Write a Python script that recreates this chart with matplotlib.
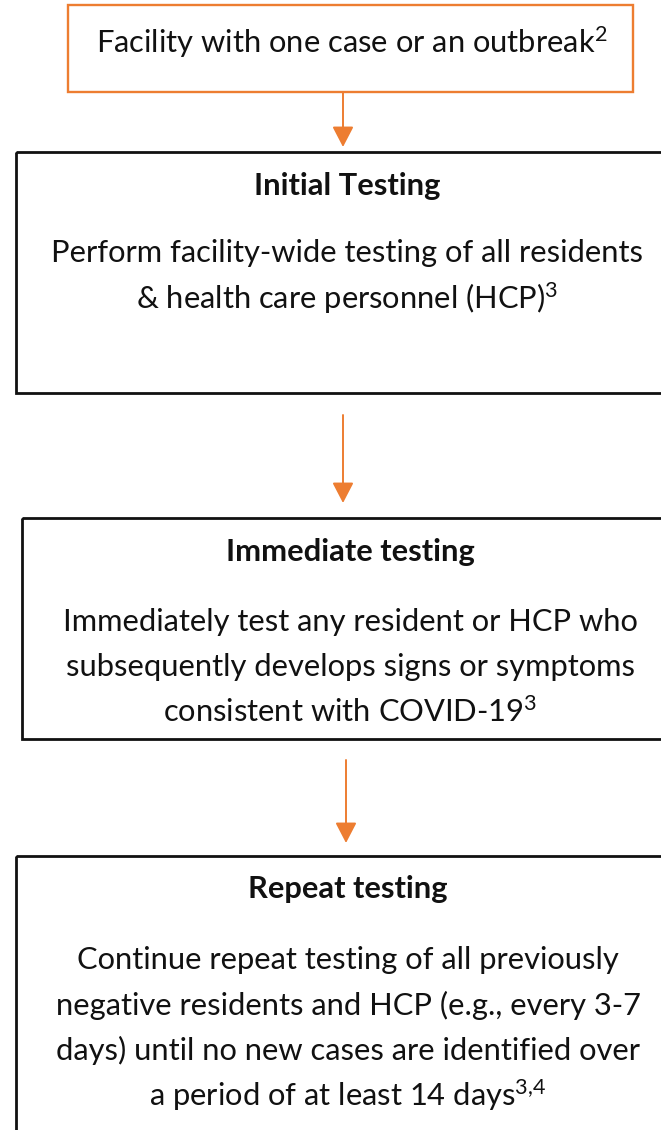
import matplotlib
matplotlib.use("Agg")
import matplotlib.pyplot as plt
from matplotlib.patches import Rectangle

plt.rcParams['font.family'] = ['Lato', 'DejaVu Sans']
plt.rcParams['mathtext.fontset'] = 'custom'
plt.rcParams['mathtext.rm'] = 'Lato'
plt.rcParams['mathtext.it'] = 'Lato:italic'
plt.rcParams['mathtext.bf'] = 'Lato:bold'

# ---- content ----
start_text = "Facility with one case or an outbreak$^{2}$"
step_titles = ["Initial Testing", "Immediate testing", "Repeat testing"]
step_bodies = [
    ["Perform facility-wide testing of all residents",
     "& health care personnel (HCP)$^{3}$"],
    ["Immediately test any resident or HCP who",
     "subsequently develops signs or symptoms",
     "consistent with COVID-19$^{3}$"],
    ["Continue repeat testing of all previously",
     "negative residents and HCP (e.g., every 3-7",
     "days) until no new cases are identified over",
     "a period of at least 14 days$^{3{,}4}$"],
]

# ---- layout (pixel coordinates) ----
W, H = 661, 1130
ORANGE = "#ED7D31"
TEXT = "#111111"
FS = 22.2

fig = plt.figure(figsize=(W / 100, H / 100), dpi=100)
ax = fig.add_axes([0, 0, 1, 1])
ax.set_xlim(0, W)
ax.set_ylim(H, 0)
ax.axis("off")

# start box
ax.add_patch(Rectangle((68, 5), 565, 87, fill=False, edgecolor=ORANGE, lw=1.7))
ax.text(352, 42, start_text, ha="center", va="center", fontsize=FS, color=TEXT)

# step boxes: (left, top, bottom)
boxes = [(16, 152, 393), (22, 518, 739), (16, 856, 1200)]
title_y = [186, 552, 889]
body_y0 = [253, 622, 960]
line_gap = 45
text_x = [347, 350, 348]

for (left, top, bottom), title, body, ty, by, tx in zip(boxes, step_titles, step_bodies,
                                                      title_y, body_y0, text_x):
    ax.add_patch(Rectangle((left, top), 800, bottom - top, fill=False,
                           edgecolor="#111111", lw=2.0))
    ax.text(tx, ty, title, ha="center", va="center", fontsize=FS,
            fontweight="bold", color=TEXT)
    for i, line in enumerate(body):
        ax.text(tx, by + i * line_gap, line, ha="center", va="center",
                fontsize=FS, color=TEXT)

# arrows: (x, y_start, y_end)
arrows = [(343, 93, 147), (343, 415, 503), (346, 760, 843)]
for x, y0, y1 in arrows:
    ax.annotate("", xy=(x, y1), xytext=(x, y0),
                arrowprops=dict(arrowstyle="-|>,head_length=1.25,head_width=0.65",
                                mutation_scale=10, color=ORANGE, lw=1.4,
                                shrinkA=0, shrinkB=0))

fig.savefig("out.png", dpi=100, facecolor="white")
